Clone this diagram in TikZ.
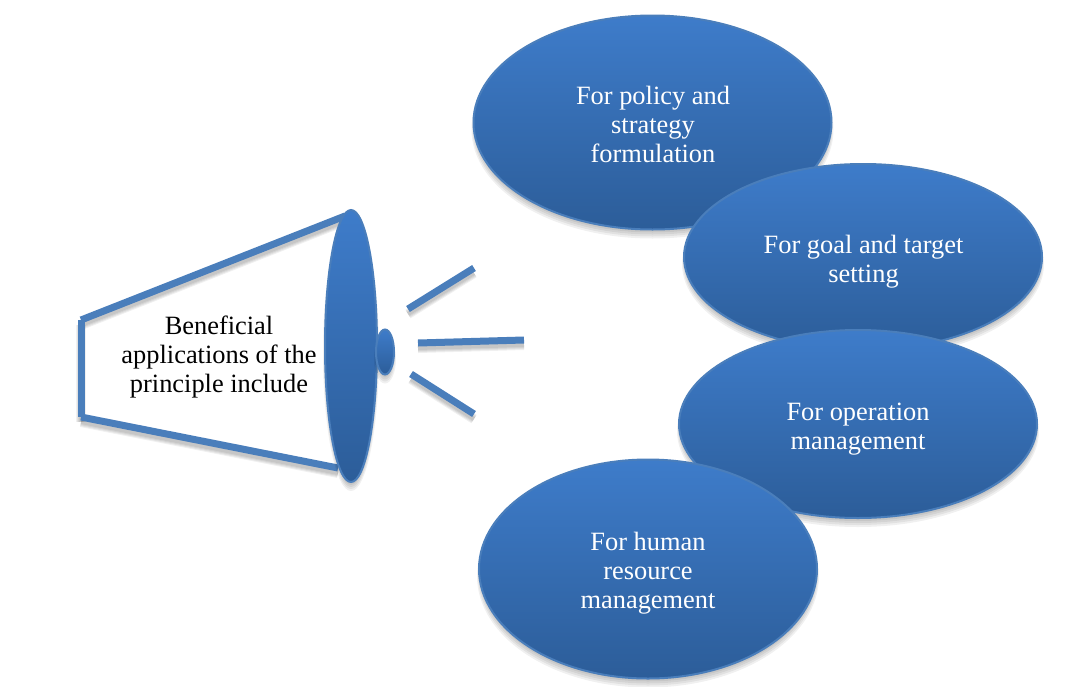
\documentclass[tikz,border=0pt]{standalone}
\usepackage{fontspec}
\setmainfont{Liberation Serif}
\usetikzlibrary{shapes.geometric}
\definecolor{topblue}{RGB}{62,124,202}
\definecolor{botblue}{RGB}{44,93,153}
\definecolor{edgeblue}{RGB}{74,126,187}
\tikzset{
  x=1pt,y=-1pt,
  blob/.style={ellipse,draw=edgeblue,line width=2pt,top color=topblue,bottom color=botblue,inner sep=0pt,outer sep=0pt},
  bar/.style={edgeblue,line width=7pt},
  barshade/.style={black,opacity=.06},
  ovalshade/.style={ellipse,fill=black,opacity=.06,draw=none,inner sep=0pt},
  ovaltext/.style={align=center,text=white,font=\fontsize{26.4}{29}\selectfont},
  caption/.style={align=center,text=black,font=\fontsize{26.4}{29}\selectfont}
}
% soft shadow under an ellipse: centre x, centre y, width, height
\newcommand{\softoval}[4]{%
  \foreach \k in {0,1,2,3,4}{
    \node[ovalshade,minimum width={#3-4+2*\k},minimum height={#4-4+2*\k}] at (#1,{#2+3+\k}) {};
  }}
% soft shadow under a bar
\newcommand{\softbar}[2]{%
  \foreach \k in {0,1,2,3}{
    \draw[barshade,line width={4+2*\k}] ([yshift=-5pt]#1) -- ([yshift=-5pt]#2);
  }}
\begin{document}
\begin{tikzpicture}
\useasboundingbox (0,0) rectangle (1082,686);
\fill[white] (0,0) rectangle (1082,686);
% megaphone end points
\coordinate (a) at (81,320);
\coordinate (b) at (345,216);
\coordinate (c) at (81,417);
\coordinate (d) at (338,468);
\coordinate (r1s) at (408,309);
\coordinate (r1e) at (474,268);
\coordinate (r2s) at (418,343);
\coordinate (r2e) at (524,340);
\coordinate (r3s) at (411,374);
\coordinate (r3e) at (474,414);
% shadows of the bars
\softbar{a}{b}
\softbar{c}{d}
\softbar{a}{c}
\softbar{r1s}{r1e}
\softbar{r2s}{r2e}
\softbar{r3s}{r3e}
% bars
\draw[bar] (a) -- (b);
\draw[bar] (a) -- (c);
\draw[bar] (c) -- (d);
\draw[bar] (r1s) -- (r1e);
\draw[bar] (r2s) -- (r2e);
\draw[bar] (r3s) -- (r3e);
% mouth and knob
\softoval{351}{346}{52}{272}
\node[blob,minimum width=52pt,minimum height=272pt] (mouth) at (351,346) {};
\softoval{385}{352}{18}{45}
\node[blob,minimum width=18pt,minimum height=45pt] (knob) at (385,352) {};
\node[caption] (cap) at (219,357) {Beneficial\\applications of the\\principle include};
% ovals
\softoval{652.5}{122.5}{358}{214}
\node[blob,minimum width=358pt,minimum height=214pt] (o1) at (652.5,122.5) {};
\node[ovaltext] (t1) at (653,124) {For policy and\\strategy\\formulation};
\softoval{863}{257}{358}{186}
\node[blob,minimum width=358pt,minimum height=186pt] (o2) at (863,257) {};
\node[ovaltext] (t2) at (863.5,262) {For goal and target\\setting};
\softoval{858}{424}{358}{188}
\node[blob,minimum width=358pt,minimum height=188pt] (o3) at (858,424) {};
\node[ovaltext] (t3) at (858,429) {For operation\\management};
\softoval{648}{569}{338}{219}
\node[blob,minimum width=338pt,minimum height=219pt] (o4) at (648,569) {};
\node[ovaltext] (t4) at (648,573) {For human\\resource\\management};
\end{tikzpicture}
\end{document}
